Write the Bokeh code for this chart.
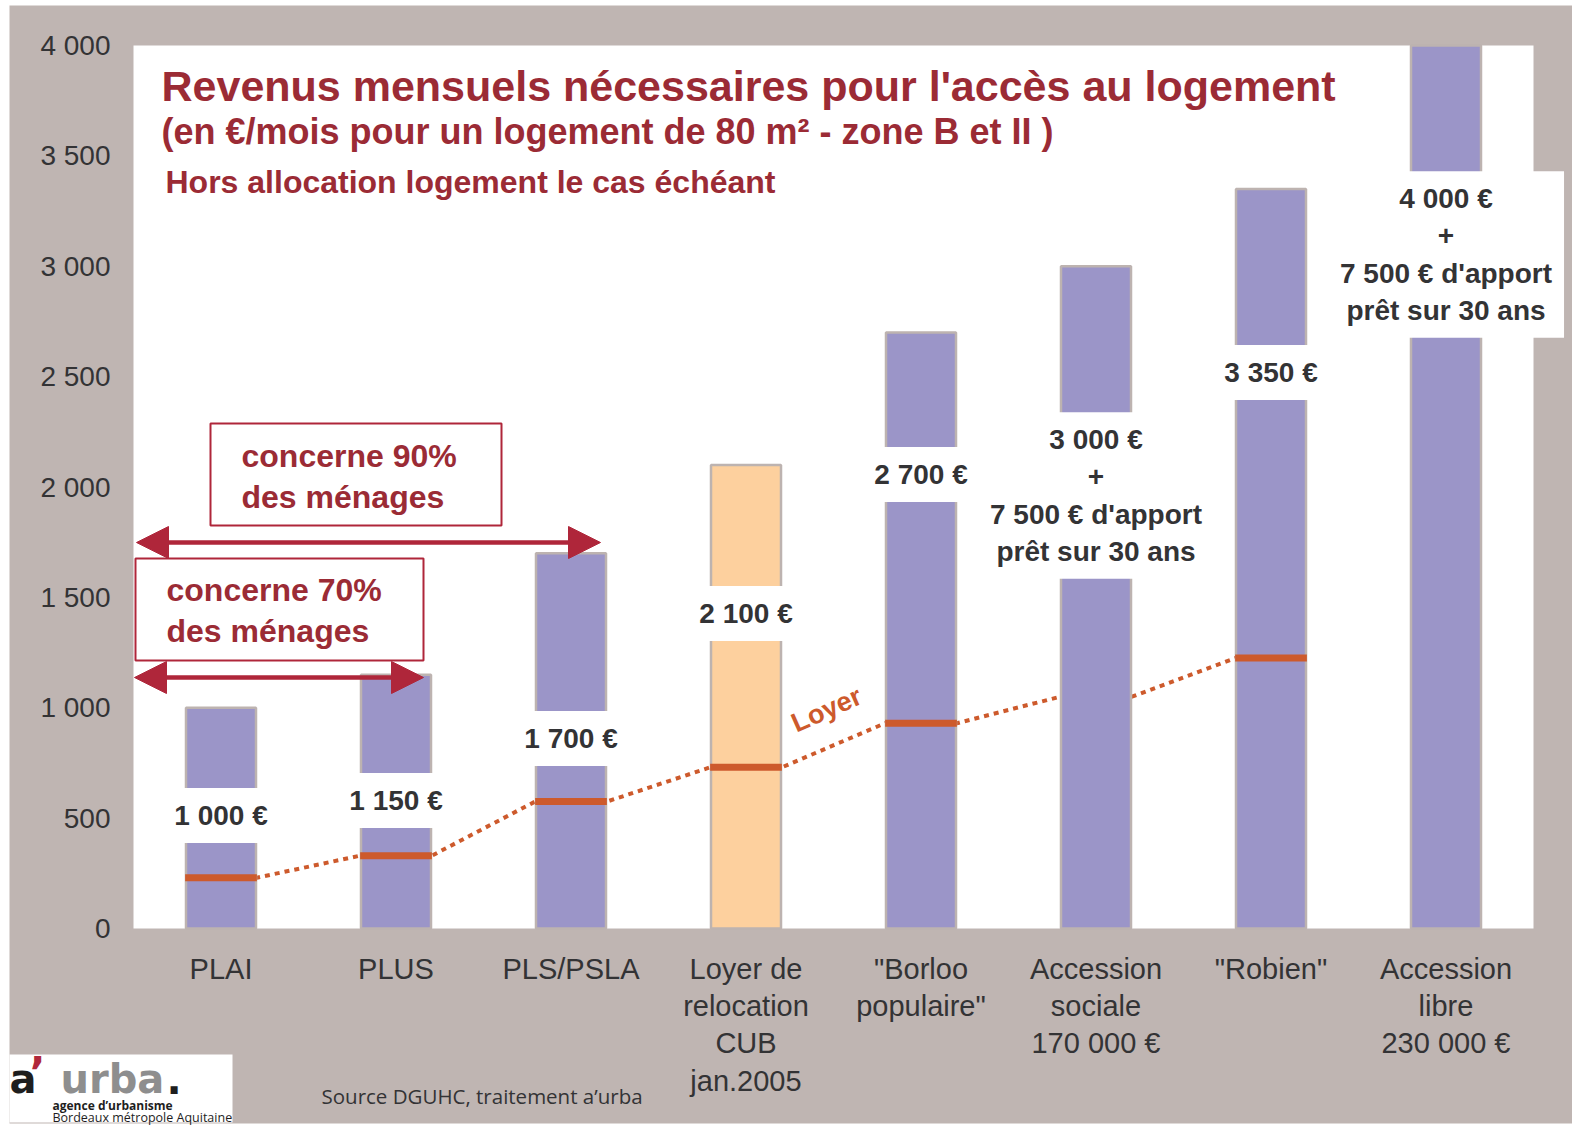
from bokeh.plotting import figure
from bokeh.models import Label, BoxAnnotation, Arrow, NormalHead, FixedTicker, Range1d
from bokeh.embed import file_html
from bokeh.resources import INLINE

# ---------------- data ----------------
categories = ["PLAI", "PLUS", "PLS/PSLA", "Loyer de\nrelocation\nCUB\njan.2005",
              "\"Borloo\npopulaire\"", "Accession\nsociale\n170 000 €", "\"Robien\"",
              "Accession\nlibre\n230 000 €"]
income = [1000, 1150, 1700, 2100, 2700, 3000, 3350, 4000]
rent = [230, 330, 575, 730, 930, 1050, 1225, None]
rent_marker_shown = [True, True, True, True, True, False, True, False]
bar_kind = ["social", "social", "social", "relocation", "market", "market", "market", "market"]
extra_notes = ["", "", "", "", "", "+\n7 500 € d'apport\nprêt sur 30 ans", "",
               "+\n7 500 € d'apport\nprêt sur 30 ans"]
y_ticks = [0, 500, 1000, 1500, 2000, 2500, 3000, 3500, 4000]
y_tick_labels = ["0", "500", "1 000", "1 500", "2 000", "2 500", "3 000", "3 500", "4 000"]

# ---------------- layout (page pixels -> data units) ----------------
W, H = 1572, 1126
PX_LEFT, PX_RIGHT, PX_BOTTOM, PX_TOP = 133, 1533, 928, 45
N = len(categories)
Y_MAX = y_ticks[-1]

def X(px):
    return (px - PX_LEFT) / ((PX_RIGHT - PX_LEFT) / N) - 0.5

def Y(py):
    return (PX_BOTTOM - py) * Y_MAX / (PX_BOTTOM - PX_TOP)

label_y_px = [815, 800, 738, 613, 474, 495, 372, 254]

GREY_BG = "#BFB5B2"
PURPLE = "#9B95C8"
PEACH = "#FDD09E"
DARKRED = "#9B2B35"
ARROWRED = "#AF263A"
ORANGE = "#CD5A2C"
TXT = "#333335"
FONT = "Liberation Sans"

p = figure(width=W, height=H, title=None,
           x_range=Range1d(X(0), X(W)), y_range=Range1d(Y(H), Y(0)),
           output_backend="svg", toolbar_location=None,
           min_border=0, min_border_left=0, min_border_right=0,
           min_border_top=0, min_border_bottom=0,
           background_fill_color="white", border_fill_color="white", outline_line_color=None)
p.xgrid.visible = False
p.ygrid.visible = False

# grey slide background and white plot area
p.quad(left=[X(9)], right=[X(W)], bottom=[Y(1123)], top=[Y(5)],
       fill_color=GREY_BG, line_color=None)
p.quad(left=[-0.5], right=[N - 0.5], bottom=[0], top=[Y_MAX],
       fill_color="white", line_color=None)

# axes (fixed at the plot area edges)
p.xaxis.fixed_location = 0
p.yaxis.fixed_location = -0.5
p.yaxis.ticker = FixedTicker(ticks=y_ticks)
p.yaxis.major_label_overrides = {t: l for t, l in zip(y_ticks, y_tick_labels)}
p.xaxis.ticker = FixedTicker(ticks=list(range(N)))
p.xaxis.major_label_overrides = {i: c for i, c in enumerate(categories)}
for ax in (p.xaxis, p.yaxis):
    ax.axis_line_color = None
    ax.major_tick_line_color = None
    ax.minor_tick_line_color = None
    ax.major_tick_out = 0
    ax.major_tick_in = 0
    ax.major_label_text_font = FONT
    ax.major_label_text_color = TXT
p.yaxis.major_label_text_font_size = "28px"
p.yaxis.major_label_standoff = 23
p.xaxis.major_label_text_font_size = "29px"
p.xaxis.major_label_text_line_height = 1.17
p.xaxis.major_label_standoff = 24

xs = list(range(N))
half = 0.205

# dotted rent line (behind bars)
lx, ly = [], []
for i, r in zip(xs, rent):
    if r is None:
        continue
    lx += [i - half, i + half]
    ly += [r, r]
p.line(lx, ly, line_color=ORANGE, line_width=4, line_dash="5 5")

# bars
colors = [PEACH if k == "relocation" else PURPLE for k in bar_kind]
p.vbar(x=xs, top=income, bottom=0, width=0.4, fill_color=colors,
       line_color="#BDB3B0", line_width=2.5)

# rent markers
mx0 = [i - half for i, s in zip(xs, rent_marker_shown) if s]
mx1 = [i + half for i, s in zip(xs, rent_marker_shown) if s]
my = [r for r, s in zip(rent, rent_marker_shown) if s]
p.segment(x0=mx0, y0=my, x1=mx1, y1=my, line_color=ORANGE, line_width=7)

# value labels with white boxes
for i, v, note, lyp in zip(xs, income, extra_notes, label_y_px):
    txt = f"{v:,}".replace(",", " ") + " €"
    if note:
        txt = txt + "\n" + note
    p.add_layout(Label(x=i, y=Y(lyp), text=txt, text_align="center", text_baseline="middle",
                       text_font=FONT, text_font_style="bold", text_font_size="28px",
                       text_color=TXT, text_line_height=1.2,
                       background_fill_color="white", background_fill_alpha=1.0, padding=12))

# "Loyer" label
p.add_layout(Label(x=X(826), y=Y(709), text="Loyer", angle=24, angle_units="deg",
                   text_align="center", text_baseline="middle", text_font=FONT,
                   text_font_style="bold", text_font_size="27px", text_color=ORANGE))

# concern boxes + arrows
p.add_layout(BoxAnnotation(left=X(210), right=X(501), bottom=Y(525), top=Y(423),
                           fill_color="white", fill_alpha=1.0, line_color=ARROWRED,
                           line_alpha=1.0, line_width=2))
p.add_layout(Label(x=X(241), y=Y(476), text="concerne 90%\ndes ménages", text_align="left",
                   text_baseline="middle", text_font=FONT, text_font_style="bold",
                   text_font_size="32px", text_color=DARKRED, text_line_height=1.15))
p.add_layout(BoxAnnotation(left=X(135), right=X(423), bottom=Y(660), top=Y(558),
                           fill_color="white", fill_alpha=1.0, line_color=ARROWRED,
                           line_alpha=1.0, line_width=2))
p.add_layout(Label(x=X(166), y=Y(610), text="concerne 70%\ndes ménages", text_align="left",
                   text_baseline="middle", text_font=FONT, text_font_style="bold",
                   text_font_size="32px", text_color=DARKRED, text_line_height=1.15))

for xa, xb, ya in ((136, 600, 542), (134, 423, 677)):
    p.add_layout(Arrow(x_start=X(xa), x_end=X(xb), y_start=Y(ya), y_end=Y(ya),
                       line_color=ARROWRED, line_width=4.5,
                       start=NormalHead(size=32, fill_color=ARROWRED, line_color=ARROWRED),
                       end=NormalHead(size=32, fill_color=ARROWRED, line_color=ARROWRED)))

# titles
p.add_layout(Label(x=X(161), y=Y(85), text="Revenus mensuels nécessaires pour l'accès au logement",
                   text_align="left", text_baseline="middle", text_font=FONT,
                   text_font_style="bold", text_font_size="43px", text_color=DARKRED))
p.add_layout(Label(x=X(161), y=Y(131), text="(en €/mois pour un logement de 80 m² - zone B et II )",
                   text_align="left", text_baseline="middle", text_font=FONT,
                   text_font_style="bold", text_font_size="36px", text_color=DARKRED))
p.add_layout(Label(x=X(165), y=Y(181), text="Hors allocation logement le cas échéant",
                   text_align="left", text_baseline="middle", text_font=FONT,
                   text_font_style="bold", text_font_size="32px", text_color=DARKRED))

# source
p.add_layout(Label(x=X(321), y=Y(1095), text="Source DGUHC, traitement a’urba",
                   text_align="left", text_baseline="middle", text_font="Open Sans",
                   text_font_size="20.5px", text_color=TXT))

# logo
p.add_layout(BoxAnnotation(left=X(9), right=X(232), bottom=Y(1122), top=Y(1054),
                           fill_color="white", fill_alpha=1.0, line_color=None))
p.add_layout(Label(x=X(9), y=Y(1078), text="a", text_align="left", text_baseline="middle",
                   text_font="DejaVu Sans", text_font_style="bold", text_font_size="40px",
                   text_color="#1E1E1E"))
p.add_layout(Label(x=X(29), y=Y(1072), text="’", text_align="left", text_baseline="middle",
                   text_font="DejaVu Sans", text_font_style="bold", text_font_size="42px",
                   text_color="#B0283C"))
p.add_layout(Label(x=X(60), y=Y(1078), text="urba", text_align="left", text_baseline="middle",
                   text_font="DejaVu Sans", text_font_style="bold", text_font_size="40px",
                   text_color="#8E8E8E"))
p.add_layout(Label(x=X(166), y=Y(1078), text=".", text_align="left", text_baseline="middle",
                   text_font="DejaVu Sans", text_font_style="bold", text_font_size="40px",
                   text_color="#1E1E1E"))
p.add_layout(Label(x=X(52), y=Y(1105), text="agence d’urbanisme", text_align="left",
                   text_baseline="middle", text_font="Open Sans", text_font_style="bold",
                   text_font_size="12px", text_color="#1E1E1E"))
p.add_layout(Label(x=X(52), y=Y(1117), text="Bordeaux métropole Aquitaine", text_align="left",
                   text_baseline="middle", text_font="Open Sans",
                   text_font_size="12.5px", text_color="#1E1E1E"))

open("out.html", "w").write(file_html(p, INLINE))
